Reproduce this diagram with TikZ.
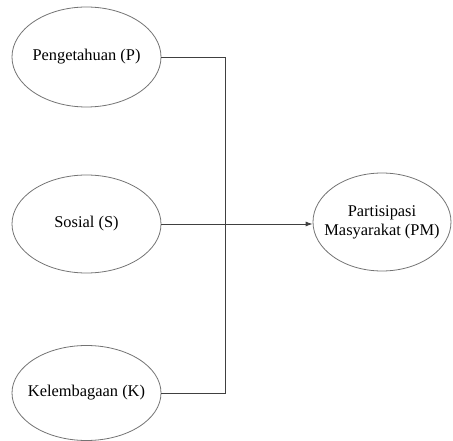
\documentclass[tikz,border=0pt]{standalone}
\usepackage{fontspec}
\setmainfont{Liberation Serif}
\usetikzlibrary{shapes.geometric,arrows.meta}
\tikzset{var/.style={draw=black!55, ellipse, line width=0.8pt, inner xsep=-10pt, inner ysep=0pt, minimum width=149pt, minimum height=98pt, align=center, font=\fontsize{16.4}{19}\selectfont}}
\tikzset{link/.style={draw=black!75, line width=0.8pt}}
\tikzset{target/.style={var, minimum width=138pt, minimum height=98pt}}

\begin{document}
\begin{tikzpicture}[x=1pt,y=-1pt]
\useasboundingbox (0,0) rectangle (453,441);
\node[var, minimum height=100pt] (P) at (86.5,57) {Pengetahuan (P)};
\node[var] (S) at (86.5,224) {Sosial (S)};
\node[var, minimum height=95pt] (K) at (86.5,393) {Kelembagaan (K)};
\node[target] (PM) at (382,222) {Partisipasi\\Masyarakat (PM)};
\coordinate (J) at (225,224);
%\draw[link] (P.east) -- (J);
\draw[link] (P.east) -| (J);
\draw[link] (K.east) -| (J);
\draw[link, -{Latex[length=7pt,width=5pt]}] (S.east) -- (S.east -| PM.west);
\end{tikzpicture}
\end{document}
